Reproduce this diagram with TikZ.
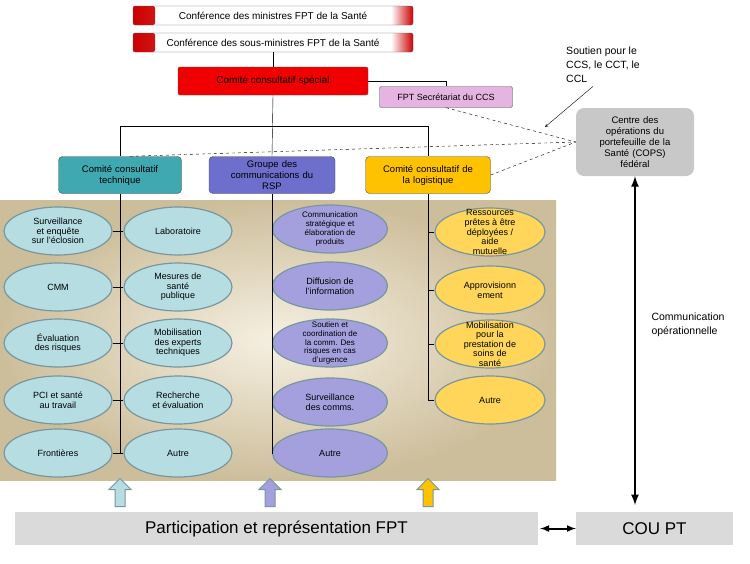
\documentclass[tikz,border=0pt]{standalone}
\usepackage{fontspec}
\setmainfont{Liberation Sans}
\usepackage{tikz}
\usetikzlibrary{shapes.arrows,shapes.geometric}
\definecolor{tealc}{RGB}{64,168,176}
\definecolor{teall}{RGB}{182,222,226}
\definecolor{purc}{RGB}{110,110,205}
\definecolor{purl}{RGB}{164,160,222}
\definecolor{yelc}{RGB}{255,194,0}
\definecolor{yell}{RGB}{255,214,90}
\definecolor{redc}{RGB}{240,0,0}
\definecolor{pinkc}{RGB}{230,180,225}
\definecolor{grayc}{RGB}{200,200,200}
\definecolor{barc}{RGB}{218,218,218}
\definecolor{tanin}{RGB}{246,240,226}
\definecolor{tanout}{RGB}{205,190,155}
\definecolor{edgec}{RGB}{120,150,160}
\begin{document}
\begin{tikzpicture}[x=1pt,y=-1pt,font=\fontsize{9}{10}\selectfont]
	\tikzstyle{topbox}=[draw=gray!70!black,minimum width=280,minimum height=19,rounded corners=2,fill=white,font=\fontsize{10}{11}\selectfont,
		path picture={\fill[left color=red!80!black,right color=white] (path picture bounding box.south west) rectangle ([xshift=22pt]path picture bounding box.north west);
		\fill[left color=white,right color=red!80!black] ([xshift=-22pt]path picture bounding box.south east) rectangle (path picture bounding box.north east);}]
	\tikzstyle{comite}=[draw=black!70,rounded corners=4,minimum width=123,minimum height=37,align=center,text width=115,font=\fontsize{9.5}{11}\selectfont]
	\tikzstyle{task}=[ellipse,draw=edgec,line width=1.2,minimum width=108,minimum height=48,align=center,inner sep=-3pt,font=\fontsize{9}{9.6}\selectfont]
	\tikzstyle{bluearrow}=[single arrow,shape border rotate=90,draw=edgec,line width=1,minimum height=28,minimum width=22,single arrow head extend=3,inner sep=2]
	\useasboundingbox (0,0) rectangle (750,563);
	% fond
	\fill[inner color=tanin,outer color=tanout] (0,200) rectangle (556,480);
	% niveaux du haut
	\node[topbox](m1) at (273,15.5) {Conférence des ministres FPT de la Santé};
	\node[topbox](m2) at (273,42.5) {Conférence des sous-ministres FPT de la Santé};
	\node[draw=black!70,fill=redc,rounded corners=2,minimum width=190,minimum height=28,font=\fontsize{10}{11}\selectfont](ccs) at (273,81) {Comité consultatif spécial};
	\node[draw=black!70,fill=pinkc,rounded corners=2,minimum width=133,minimum height=21](sec) at (446,97) {FPT Secrétariat du CCS};
	\node[comite,fill=tealc](cct) at (120,175) {Comité consultatif\\technique};
	\node[comite,fill=purc,minimum width=126](grc) at (272,175) {Groupe des\\communications du\\RSP};
	\node[comite,fill=yelc,minimum width=125](ccl) at (428,175) {Comité consultatif de\\la logistique};
	\node[fill=grayc,rounded corners=8,minimum width=118,minimum height=68,align=center,text width=110,font=\fontsize{9.5}{11}\selectfont](cops) at (635,142) {Centre des\\opérations du\\portefeuille de la\\Santé (COPS)\\fédéral};
	\node[align=left,font=\fontsize{10.5}{14}\selectfont](sout) at (603,65) {Soutien pour le\\CCS, le CCT, le\\CCL};
	\coordinate (h1) at (120,126);
	\coordinate (h3) at (428,126);
	\draw (m2) -- (ccs);
	\draw (ccs.south) -- (grc.north);
	\draw (ccs.east) -| (sec.north);
	\draw (cct.north) |- (h1) -- (h3) -- (ccl.north);
	\draw[dashed] (sec.south) -- (cops.west);
	\draw[dashed] (cct.north) ++(10,0) -- (cops.west);
	\draw[dashed] (ccl.east) -- (cops.west);
	\draw[->,>=stealth] (sout.south) ++(-10,0) -- (545,127);
	% colonne technique
	\node[task,fill=teall](t1) at (58,231) {Surveillance\\et enquête\\sur l'éclosion};
	\node[task,fill=teall](t2) at (178,231) {Laboratoire};
	\node[task,fill=teall](t3) at (58,287) {CMM};
	\node[task,fill=teall](t4) at (178,287) {Mesures de\\santé\\publique};
	\node[task,fill=teall](t5) at (58,343) {Évaluation\\des risques};
	\node[task,fill=teall](t6) at (178,343) {Mobilisation\\des experts\\techniques};
	\node[task,fill=teall](t7) at (58,400) {PCI et santé\\au travail};
	\node[task,fill=teall](t8) at (178,400) {Recherche\\et évaluation};
	\node[task,fill=teall](t9) at (58,453) {Frontières};
	\node[task,fill=teall](t10) at (178,453) {Autre};
	\draw (cct.south) -- (120,453);
	\foreach \a/\b in {t1/t2,t3/t4,t5/t6,t7/t8,t9/t10} \draw (\a) -- (\b);
	% colonne communications
	\node[task,fill=purl,font=\fontsize{8}{8.8}\selectfont,minimum width=115,inner sep=-5pt](c1) at (330,229) {Communication\\stratégique et\\élaboration de\\produits};
	\node[task,fill=purl,minimum width=115](c2) at (330,286) {Diffusion de\\l'information};
	\node[task,fill=purl,font=\fontsize{8}{8.8}\selectfont,minimum width=115,inner sep=-8pt](c3) at (330,343) {Soutien et\\coordination de\\la comm. Des\\risques en cas\\d'urgence};
	\node[task,fill=purl,minimum width=115](c4) at (330,402) {Surveillance\\des comms.};
	\node[task,fill=purl,minimum width=115](c5) at (330,453) {Autre};
	\draw (grc.south) -- (272,453);
	\foreach \c in {c1,c2,c3,c4,c5} \draw (272,0 |- \c.west) -- (\c);
	% colonne logistique
	\node[task,fill=yell,minimum width=110,inner sep=-9pt](l1) at (490,232) {Ressources\\prêtes à être\\déployées /\\aide\\mutuelle};
	\node[task,fill=yell,minimum width=110](l2) at (490,290) {Approvisionn\\ement};
	\node[task,fill=yell,minimum width=110,inner sep=-9pt](l3) at (490,344) {Mobilisation\\pour la\\prestation de\\soins de\\santé};
	\node[task,fill=yell,minimum width=110](l4) at (490,400) {Autre};
	\draw (ccl.south) -- (428,400);
	\foreach \l in {l1,l2,l3,l4} \draw (428,0 |- \l.west) -- (\l);
	% bas
	\node[fill=barc,minimum width=523,minimum height=33,font=\fontsize{17}{20}\selectfont](fpt) at (276.5,528.5) {Participation et représentation FPT};
	\node[fill=barc,minimum width=157,minimum height=33,font=\fontsize{17}{20}\selectfont](cou) at (654.5,528.5) {COU PT};
	\node[bluearrow,fill=teall](a1) at (120,495) {};
	\node[bluearrow,fill=purl](a2) at (270,495) {};
	\node[bluearrow,fill=yelc](a3) at (428,495) {};
	\draw[<->,>=latex,line width=2] (fpt.east) ++(2,0) -- (cou.west);
	\draw[<->,>=latex,line width=2.5] (cops.south) -- (635,505);
	\node[align=left,font=\fontsize{10.5}{14}\selectfont](op) at (688,325) {Communication\\opérationnelle};
\end{tikzpicture}
\end{document}
